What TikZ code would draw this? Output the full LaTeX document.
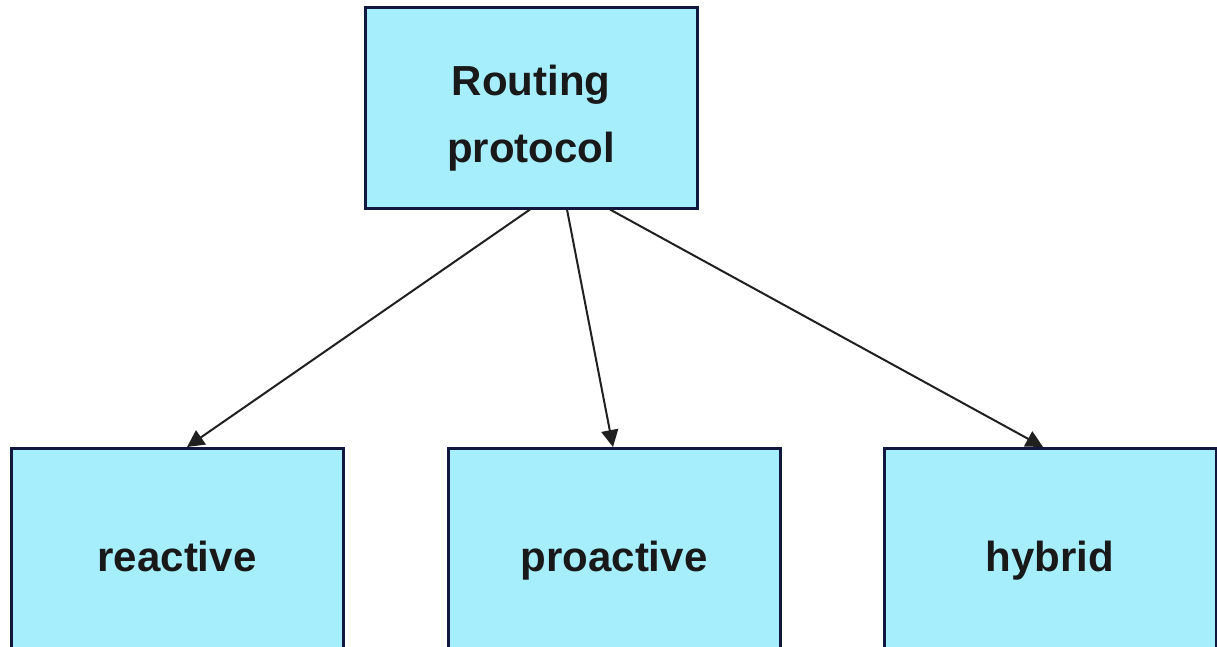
\documentclass[tikz,border=0pt]{standalone}
\usepackage{fontspec}
\setmainfont{Liberation Sans}
\usetikzlibrary{arrows.meta}
\definecolor{boxfill}{HTML}{A6EEFC}
\definecolor{boxline}{HTML}{101840}
\definecolor{arrowcol}{HTML}{202020}
\begin{document}
\begin{tikzpicture}[x=1pt,y=-1pt,
  box/.style={draw=boxline,fill=boxfill,line width=3pt,minimum width=332pt,inner sep=0pt,
    font=\fontsize{42}{67}\selectfont\bfseries,align=center,text=black!90},
  low/.style={box,minimum height=216pt,anchor=north,text height=30pt,text depth=0pt},
  conn/.style={draw=arrowcol,line width=2pt,-{Triangle[length=17pt,width=17pt]}}]
\clip (0,0) rectangle (1217,646);
\fill[white] (0,0) rectangle (1217,646);
\node[box,minimum height=201pt] (top) at (531,107.5) {\rule{0pt}{51pt}Routing\\protocol};
\node[low] (reactive) at (177,447) {reactive};
\node[low] (proactive) at (614,447) {proactive};
\node[low] (hybrid) at (1050,447) {hybrid};
\draw[conn] ([xshift=-1pt]top.south) -- ([xshift=10pt]reactive.north);
\draw[conn] ([xshift=36pt]top.south) -- ([xshift=-1pt]proactive.north);
\draw[conn] ([xshift=79pt]top.south) -- ([xshift=-7pt]hybrid.north);
\end{tikzpicture}
\end{document}
